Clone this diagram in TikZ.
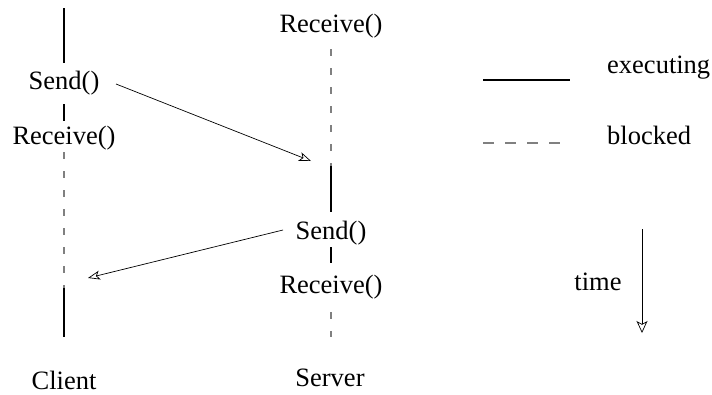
\documentclass[tikz,border=0pt]{standalone}
\usepackage{fontspec}
\setmainfont{Liberation Serif}
\usetikzlibrary{arrows.meta}
\begin{document}
\begin{tikzpicture}[x=1pt,y=-1pt,
  lbl/.style={font=\fontsize{26.5}{31}\selectfont, inner sep=0pt},
  run/.style={line width=1.8pt},
  wait/.style={line width=1.2pt, gray, dash pattern=on 7pt off 12pt},
  msg/.style={line width=0.7pt, -{Stealth[open, length=12pt, width=9pt, inset=3pt]}}]
\useasboundingbox (0,0) rectangle (712,394);

% client lifeline
\coordinate (c0) at (64,8);
\coordinate (c1) at (64,63);
\node[lbl] (csend) at (64,83) {Send()};
\coordinate (c2) at (64,104);
\coordinate (c3) at (64,121);
\node[lbl] (crecv) at (64,138) {Receive()};
\coordinate (c4) at (64,152);
\coordinate (c5) at (64,288);
\coordinate (c6) at (64,337);
\node[lbl] (client) at (64,380) {Client};
\draw[run] (c0) -- (c1);
\draw[run] (c2) -- (c3);
\draw[wait] (c4) -- (c5);
\draw[run] (c5) -- (c6);

% server lifeline
\node[lbl] (srecv0) at (331,26) {Receive()};
\coordinate (s0) at (331,49);
\coordinate (s1) at (331,166);
\coordinate (s2) at (331,212);
\node[lbl] (ssend) at (331,233) {Send()};
\coordinate (s3) at (331,247);
\coordinate (s4) at (331,263);
\node[lbl] (srecv1) at (331,287) {Receive()};
\coordinate (s5) at (331,312);
\coordinate (s6) at (331,337);
\node[lbl] (server) at (330,378) {Server};
\draw[wait] (s0) -- (s1);
\draw[run] (s1) -- (s2);
\draw[run] (s3) -- (s4);
\draw[wait] (s5) -- (s6);

% messages
\coordinate (m1a) at (116,84);
\coordinate (m1b) at (311,161);
\coordinate (m2a) at (283,230);
\coordinate (m2b) at (88,278);
\draw[msg] (m1a) -- (m1b);
\draw[msg] (m2a) -- (m2b);

% legend
\coordinate (l0) at (483,80);
\coordinate (l1) at (570,80);
\node[lbl, anchor=west] (lexec) at (607,68) {executing};
\coordinate (l2) at (483,143);
\coordinate (l3) at (566,143);
\node[lbl, anchor=west] (lblock) at (607,135) {blocked};
\draw[run] (l0) -- (l1);
\draw[wait, dash pattern=on 11pt off 11pt] (l2) -- (l3);

% time axis
\coordinate (t0) at (642,229);
\coordinate (t1) at (642,333);
\draw[msg, -{Stealth[open, length=12pt, width=11pt, inset=3pt]}] (t0) -- (t1);
\node[lbl] (ltime) at (598,282) {time};
\end{tikzpicture}
\end{document}
